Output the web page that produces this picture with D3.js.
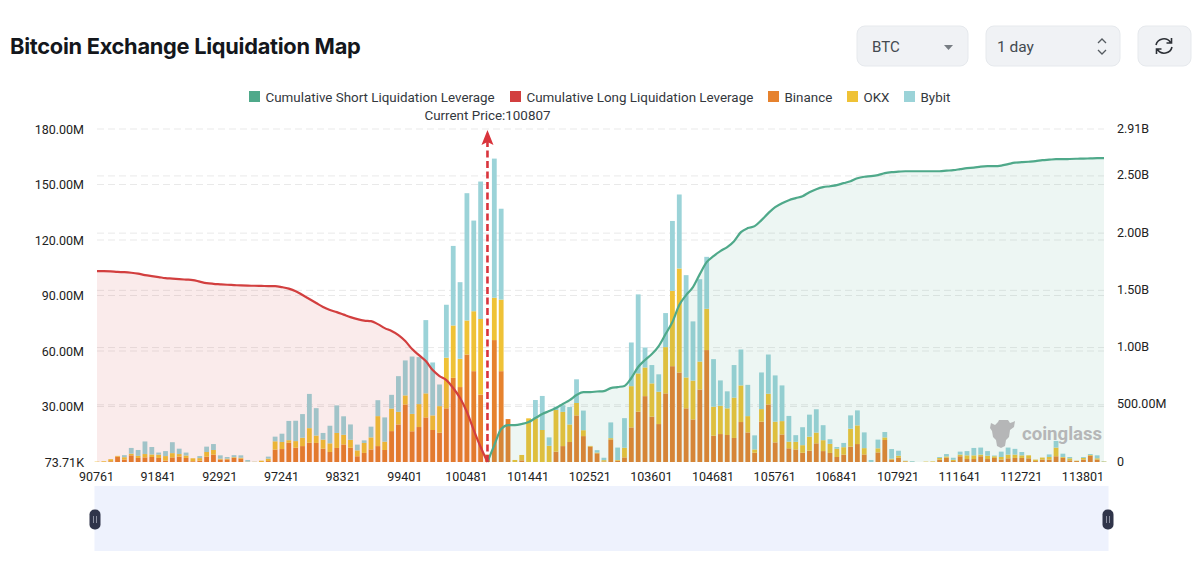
<!DOCTYPE html>
<html>
<head>
<meta charset="utf-8">
<title>Bitcoin Exchange Liquidation Map</title>
<script src="https://cdn.jsdelivr.net/npm/d3@7"></script>
<style>
    html, body { margin: 0; padding: 0; background: #fff; overflow: hidden; }
    text { font-family: Roboto, "Noto Sans", sans-serif; }
    .title { font-family: Inter, Roboto, sans-serif; font-weight: 700; }
    .axis text { fill: #222; font-size: 12.5px; }
    .axis path { display: none; }
    .axis line { display: none; }
</style>
</head>
<body>
<div id="chart"></div>
<script>
// price levels printed on the x axis, one every 9 bars
const tickLabels = ["90761","91841","92921","97241","98321","99401","100481","101441","102521","103601","104681","105761","106841","107921","111641","112721","113801"];
const leftTicks = [0, 30, 60, 90, 120, 150, 180];
const leftLabels = ["73.71K","30.00M","60.00M","90.00M","120.00M","150.00M","180.00M"];
const rightTicks = [0, 0.5, 1, 1.5, 2, 2.5, 2.91];
const rightLabels = ["0","500.00M","1.00B","1.50B","2.00B","2.50B","2.91B"];
const legendNames = ["Cumulative Short Liquidation Leverage","Cumulative Long Liquidation Leverage","Binance","OKX","Bybit"];
const currentPrice = 100807;
const currentIndex = 57;

// liquidation volume per price level, in millions
const binance = [0,0,0.4,2.9,1.3,3.6,2.2,2.5,2.7,2.2,0.7,2.5,2.9,2.2,0.4,0.7,2.9,4,1.3,1.4,2.2,1.8,0,0,0,0.5,6.7,7,10.4,7.7,8.6,10.4,10.3,7.2,5.4,7.6,9.5,7.7,3.1,4.9,
    6.8,8.6,6.5,16.7,20.3,31.1,16.6,18.9,24.1,17.3,15.8,29,45.5,40.5,58.1,49.1,36.4,4,65.9,49.1,23.2,0,0.9,0,0,0,0,5.6,8.6,10.8,25.2,14,8.3,4.7,0.3,12.2,0.7,2.5,
    18.7,27.2,35.6,24.5,20.5,37.1,51.8,48.4,29,23,39.2,60.5,14.2,15.1,14.6,13,21.6,16,5,21.8,31.1,10.6,14.9,7.4,6.8,5,6.1,10.1,5.9,4.9,2.7,4,8.3,9.7,4.1,0,5.2,11.9,1.3,2.3,
    0.3,0,0,0,0,1.3,2.3,0.5,3.1,1.6,1.6,3.1,1.6,2.2,1.3,2,2.2,2.2,2,0.5,1.3,1.3,3.1,2.3,0.9,0.5,1.3,3.4,1.3,0];
const okx = [0.2,0.4,1.1,0.4,1.3,0.9,1.1,1.8,1.4,1.8,2.5,2.3,1.4,1.3,1.6,1.4,2.5,2.5,0.5,0.4,0.4,0.5,0.2,0.1,0.7,1.3,4.5,3.8,1.4,3.6,4.5,7.9,4,4.9,4.7,8.1,5.2,4.3,3.2,5.4,
    6.5,16.2,4.5,12.2,6.8,4.9,9.4,12.4,13,7.9,14.4,27.4,28.3,15.3,18.4,32.4,40.9,0,22.9,38.7,0,1.1,2.9,23.6,23.6,17.3,8.8,22.5,18.5,9.5,6.7,3.2,0.4,0.4,0.7,0.7,0.4,5.2,
    22.3,20.7,15.5,18,17.5,25,40.7,56.2,16.7,21,15.1,22.3,15.7,15.3,14.4,21.8,19.8,8.8,1.8,6.8,5.8,11.2,7.2,3.6,4.1,4.1,7.6,5.8,5.9,4.9,4.5,4,9.7,10.1,3.4,0,2.2,1.4,0.5,1.1,
    0.3,0.1,0,0.2,0.3,0.9,0.7,0.7,0.9,2,2,0.9,1.8,0.9,1.4,2,1.8,1.4,1.6,0.8,1.1,1.4,4.7,0.4,1.1,0.2,0.9,0.4,0.7,0.3];
const bybit = [0,0,0,0,1.1,3.1,3.2,6.8,4,1.1,2.7,5.9,2.9,1.6,0,1.1,2.9,3.2,1.8,0.9,1.1,1.3,0.9,0.1,0,1.1,2.5,4.5,10.4,11,12.8,18.5,14.8,3.6,9.5,14.9,10,8.3,3.1,1.4,
    5.8,8.6,13.1,7.4,19.3,18.9,31,25.4,39.6,28.6,11.7,28.6,43,41.4,68.8,49,74.3,0,75.2,49.1,0,0,0,0,9.9,18.4,4.5,1.8,3.6,9.4,12.8,10.6,0,1.3,1.3,8.5,6.7,16,
    23.6,42.7,10.8,9.9,9.4,18.4,37.8,40,55.3,32,44.5,28.1,25.7,13.7,9.2,17.6,19.4,16.9,7.6,19.8,21.2,25,19.3,13.9,3.6,9.7,11.9,12.6,8.1,2.5,0.9,2.3,7.2,8.1,8.5,1.1,4.7,2.9,5.2,2.7,
    0.1,0.4,0,0,0,0.5,1.3,1.1,1.6,2.3,4,3.8,2.5,0.4,2.9,3.8,3.1,1.8,0,0,0,1.4,3.6,1.8,0.7,0,0.5,0.5,1.6,0.2];

// cumulative leverage in billions, long side runs up to the current price, short side from it
const cumulativeLong = [1.668,1.668,1.666,1.661,1.659,1.654,1.646,1.633,1.624,1.616,1.607,1.603,1.598,1.594,1.590,1.576,1.563,1.557,1.553,1.549,1.546,1.543,1.541,1.540,1.539,1.537,1.537,1.528,1.515,1.493,
    1.459,1.424,1.389,1.354,1.328,1.310,1.288,1.266,1.249,1.236,1.231,1.205,1.170,1.144,1.109,1.057,0.987,0.934,0.882,0.803,0.751,0.716,0.646,0.559,0.437,0.279,0.131,0];
const cumulativeShort = [0,0.148,0.288,0.323,0.323,0.332,0.349,0.384,0.419,0.445,0.472,0.507,0.541,0.585,0.611,0.611,0.616,0.620,0.646,0.655,0.664,0.734,0.830,0.891,0.943,1.013,1.118,1.223,1.371,1.459,
    1.528,1.642,1.747,1.799,1.843,1.878,1.930,2.009,2.044,2.061,2.114,2.175,2.227,2.262,2.288,2.306,2.323,2.358,2.384,2.402,2.410,2.419,2.437,2.454,2.480,2.493,2.498,2.507,2.524,2.533,
    2.537,2.541,2.541,2.541,2.541,2.541,2.541,2.546,2.550,2.559,2.568,2.572,2.581,2.585,2.585,2.590,2.603,2.616,2.620,2.624,2.629,2.638,2.642,2.646,2.646,2.648,2.650,2.651,2.653,2.655,2.655];

class LiquidationMapVis {

    constructor(parentElement) {
        this.parentElement = parentElement;
        this.initVis();
    }

    initVis() {
        let vis = this;

        vis.width = 1200;
        vis.height = 571;
        vis.margin = { top: 129, right: 96, bottom: 109, left: 97 };

        vis.svg = d3.select("#" + vis.parentElement).append("svg")
            .attr("width", vis.width)
            .attr("height", vis.height)
            .style("display", "block");

        vis.indexes = d3.range(binance.length);

        vis.xScale = d3.scalePoint()
            .domain(vis.indexes)
            .range([vis.margin.left, vis.width - vis.margin.right]);

        vis.yScale = d3.scaleLinear()
            .domain([0, 180])
            .range([vis.height - vis.margin.bottom, vis.margin.top]);

        vis.yScaleRight = d3.scaleLinear()
            .domain([0, 2.91])
            .range([vis.height - vis.margin.bottom, vis.margin.top]);

        vis.wrangleData();
    }

    wrangleData() {
        let vis = this;

        vis.displayData = vis.indexes.map(i => ({ index: i, Binance: binance[i], OKX: okx[i], Bybit: bybit[i] }));
        vis.stacked = d3.stack().keys(["Binance", "OKX", "Bybit"])(vis.displayData);

        vis.longData = cumulativeLong.map((d, i) => ({ index: i, value: d }));
        vis.shortData = cumulativeShort.map((d, i) => ({ index: i + currentIndex, value: d }));

        vis.updateVis();
    }

    updateVis() {
        let vis = this;

        vis.drawHeader();
        vis.drawGrid();
        vis.drawBars();
        vis.drawCumulative();
        vis.drawAxes();
        vis.drawLegend();
        vis.drawPriceMarker();
        vis.drawWatermark();
        vis.drawZoomBar();
    }

    drawHeader() {
        let vis = this;

        vis.svg.append("text")
            .attr("class", "title")
            .attr("x", 10)
            .attr("y", 54)
            .attr("font-size", 21.8)
            .attr("letter-spacing", -0.28)
            .attr("fill", "#14171c")
            .text("Bitcoin Exchange Liquidation Map");

        const boxes = [[857, 111], [986, 134], [1138, 53]];
        vis.svg.selectAll("rect.control").data(boxes).enter().append("rect")
            .attr("class", "control")
            .attr("x", d => d[0])
            .attr("y", 26)
            .attr("width", d => d[1])
            .attr("height", 40)
            .attr("rx", 8)
            .attr("fill", "#f0f2f5")
            .attr("stroke", "#e6e9ed");

        vis.svg.append("text").attr("x", 872).attr("y", 52).attr("font-size", 15).attr("fill", "#444a50").text("BTC");
        vis.svg.append("text").attr("x", 997).attr("y", 52).attr("font-size", 15.5).attr("fill", "#444a50").text("1 day");

        vis.svg.append("path").attr("d", "M944 45h9l-4.500 5z").attr("fill", "#777d83");
        vis.svg.append("path").attr("d", "M1098 43l4-4 4 4M1098 50l4 4 4-4")
            .attr("fill", "none").attr("stroke", "#555b61").attr("stroke-width", 1.3);

        // refresh icon
        vis.svg.append("path")
            .attr("d", "M1156 45a8 8 0 0 1 14.500-2.500M1172 47a8 8 0 0 1-14.500 2.500M1171.500 38v5h-5M1156.500 54v-5h5")
            .attr("fill", "none").attr("stroke", "#2c3036").attr("stroke-width", 1.6);
    }

    drawGrid() {
        let vis = this;

        const gridLines = leftTicks.slice(1).map(d => vis.yScale(d))
            .concat(rightTicks.slice(1, -1).map(d => vis.yScaleRight(d)));

        vis.svg.selectAll("line.grid").data(gridLines).enter().append("line")
            .attr("class", "grid")
            .attr("x1", vis.margin.left)
            .attr("x2", vis.width - vis.margin.right)
            .attr("y1", d => d)
            .attr("y2", d => d)
            .attr("stroke", "#e9e9e9")
            .attr("stroke-dasharray", "7 4");
    }

    drawBars() {
        let vis = this;

        const colors = { Binance: "#e6822e", OKX: "#efc236", Bybit: "#9bd3d8" };
        const barWidth = 4.8;

        vis.svg.selectAll("g.series").data(vis.stacked).enter().append("g")
            .attr("class", "series")
            .attr("fill", d => colors[d.key])
            .selectAll("rect")
            .data(d => d)
            .enter()
            .append("rect")
            .attr("x", d => vis.xScale(d.data.index) - barWidth / 2)
            .attr("y", d => vis.yScale(d[1]))
            .attr("width", barWidth)
            .attr("height", d => vis.yScale(d[0]) - vis.yScale(d[1]));
    }

    drawCumulative() {
        let vis = this;

        const area = d3.area()
            .x(d => vis.xScale(d.index))
            .y0(vis.yScaleRight(0))
            .y1(d => vis.yScaleRight(d.value))
            .curve(d3.curveMonotoneX);

        const line = d3.line()
            .x(d => vis.xScale(d.index))
            .y(d => vis.yScaleRight(d.value))
            .curve(d3.curveMonotoneX);

        const sides = [
            { data: vis.longData, color: "#d23f3f" },
            { data: vis.shortData, color: "#4fa98a" }
        ];

        sides.forEach(s => {
            vis.svg.append("path")
                .attr("d", area(s.data))
                .attr("fill", s.color)
                .attr("fill-opacity", 0.1);
            vis.svg.append("path")
                .attr("d", line(s.data))
                .attr("fill", "none")
                .attr("stroke", s.color)
                .attr("stroke-width", 2.2);
        });
    }

    drawAxes() {
        let vis = this;

        vis.svg.append("g")
            .attr("class", "axis")
            .attr("transform", "translate(-1," + (vis.height - vis.margin.bottom + 1) + ")")
            .call(d3.axisBottom(vis.xScale)
                .tickValues(vis.indexes.filter(i => i % 9 === 0))
                .tickSize(0)
                .tickPadding(9)
                .tickFormat(i => tickLabels[i / 9]));

        vis.svg.append("g")
            .attr("class", "axis")
            .attr("transform", "translate(" + (vis.margin.left - 13) + ",0)")
            .call(d3.axisLeft(vis.yScale)
                .tickValues(leftTicks)
                .tickSize(0)
                .tickPadding(0)
                .tickFormat((d, i) => leftLabels[i]));

        vis.svg.append("g")
            .attr("class", "axis")
            .attr("transform", "translate(" + (vis.width - vis.margin.right + 13) + ",-1)")
            .call(d3.axisRight(vis.yScaleRight)
                .tickValues(rightTicks)
                .tickSize(0)
                .tickPadding(0)
                .tickFormat((d, i) => rightLabels[i]));
    }

    drawLegend() {
        let vis = this;

        const colors = ["#4fa98a", "#d23f3f", "#e6822e", "#efc236", "#9bd3d8"];
        const starts = [249, 510, 768, 847, 904];

        const items = vis.svg.selectAll("g.legend").data(legendNames).enter().append("g")
            .attr("class", "legend")
            .attr("transform", (d, i) => "translate(" + starts[i] + ",91)");

        items.append("rect")
            .attr("width", 11)
            .attr("height", 11)
            .attr("fill", (d, i) => colors[i]);

        items.append("text")
            .attr("x", 16.5)
            .attr("y", 10.500)
            .attr("font-size", 13.4)
            .attr("fill", "#33383d")
            .text(d => d);
    }

    drawPriceMarker() {
        let vis = this;

        const x = vis.xScale(currentIndex);

        vis.svg.append("text")
            .attr("x", x)
            .attr("y", 120)
            .attr("text-anchor", "middle")
            .attr("font-size", 13.4)
            .attr("fill", "#33383d")
            .text("Current Price:" + currentPrice);

        vis.svg.append("line")
            .attr("x1", x)
            .attr("x2", x)
            .attr("y1", vis.yScale(0))
            .attr("y2", 142)
            .attr("stroke", "#d9343c")
            .attr("stroke-width", 2.6)
            .attr("stroke-dasharray", "7 3.500");

        vis.svg.append("path")
            .attr("d", "M" + x + " 130L" + (x + 6) + " 145L" + x + " 142L" + (x - 6) + " 145Z")
            .attr("fill", "#d9343c");
    }

    drawWatermark() {
        let vis = this;

        vis.svg.append("path")
            .attr("d", "M991 423l4 2 3-3 1-2h9l2 3 3-1 2-1-1 6-4 3-1 7-3 3-1 6-4 2-4-2-1-6-3-3-1-6-2-3z")
            .attr("fill", "#b5b6b7");

        vis.svg.append("text")
            .attr("x", 1022)
            .attr("y", 440)
            .attr("font-size", 18.6)
            .attr("font-weight", 700)
            .attr("fill", "#b5b6b7")
            .text("coinglass");
    }

    drawZoomBar() {
        let vis = this;

        vis.svg.append("rect")
            .attr("x", 94.500)
            .attr("y", 486)
            .attr("width", 1014)
            .attr("height", 65)
            .attr("fill", "#eef2fd");

        [95, 1108].forEach(x => {
            vis.svg.append("rect")
                .attr("x", x - 5.500)
                .attr("y", 509.500)
                .attr("width", 11)
                .attr("height", 20)
                .attr("rx", 5)
                .attr("fill", "#30354a");
            vis.svg.append("path")
                .attr("d", "M" + (x - 1.500) + " 516v7M" + (x + 1.500) + " 516v7")
                .attr("stroke", "#8c90a0");
        });
    }
}

new LiquidationMapVis("chart");
</script>
</body>
</html>
